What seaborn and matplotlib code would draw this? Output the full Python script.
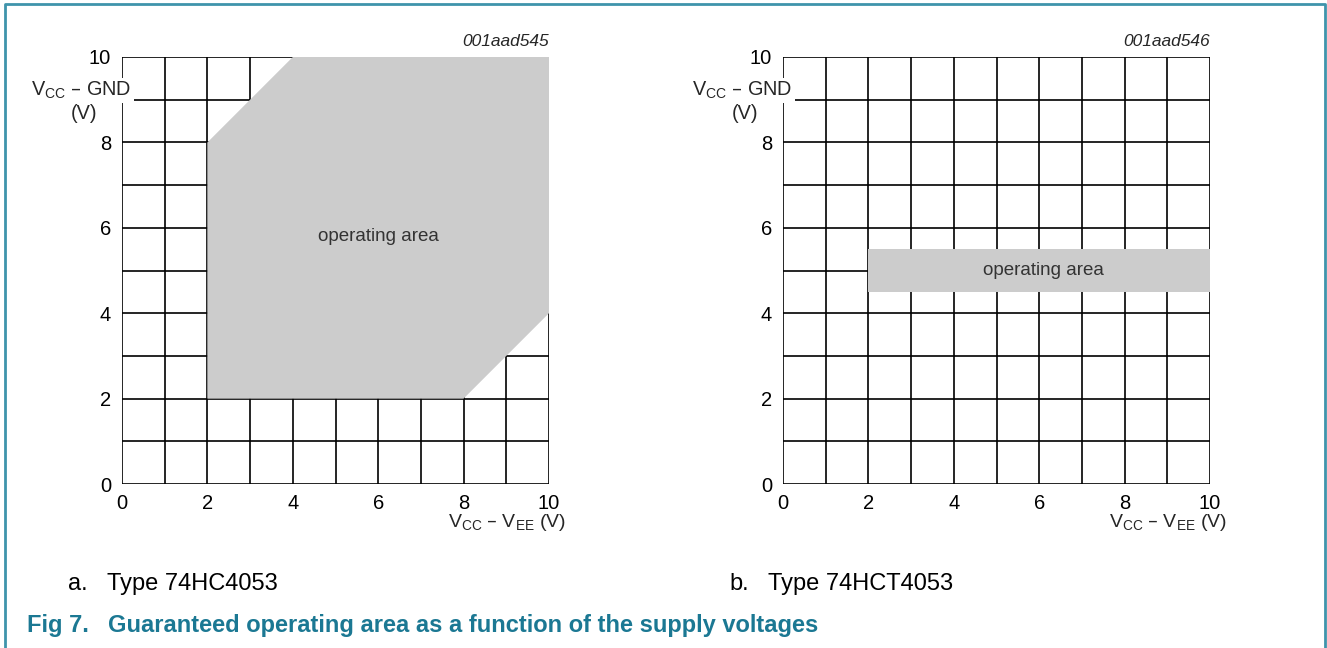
import matplotlib
matplotlib.use("Agg")
import matplotlib.pyplot as plt
import seaborn as sns
import numpy as np
from matplotlib.lines import Line2D

# ---- data ----
grid_ticks = list(range(0, 11))
label_ticks = [0, 2, 4, 6, 8, 10]

hc_x = [2, 8, 10, 10, 4, 2]
hc_y = [2, 2, 4, 10, 10, 8]

hct_x = [2, 10, 10, 2]
hct_y = [4.5, 4.5, 5.5, 5.5]

codes = ["001aad545", "001aad546"]
captions = [("a.", "Type 74HC4053"), ("b.", "Type 74HCT4053")]
area_text = "operating area"
area_text_pos = [(6.0, 5.8), (6.1, 5.0)]
title_num = "Fig 7."
title_text = "Guaranteed operating area as a function of the supply voltages"

sns.set_theme(style="white")
plt.rcParams['font.family'] = ['Liberation Sans', 'DejaVu Sans']
plt.rcParams['mathtext.default'] = 'regular'

W, H = 1327, 648
fig = plt.figure(figsize=(W / 100, H / 100), dpi=100)
fig.patch.set_facecolor("white")

def px(x, y):
    return x / W, 1 - y / H

polys = [(hc_x, hc_y), (hct_x, hct_y)]
lefts = [122, 783]
ax_w, ax_top, ax_bot = 427, 57, 484

for i, (left, (pxs, pys)) in enumerate(zip(lefts, polys)):
    ax = fig.add_axes([left / W, 1 - ax_bot / H, ax_w / W, (ax_bot - ax_top) / H])
    ax.set_xlim(0, 10)
    ax.set_ylim(0, 10)
    for s in ax.spines.values():
        s.set_visible(False)
    for g in grid_ticks:
        ax.axvline(g, color="black", lw=1.2, zorder=0)
        ax.axhline(g, color="black", lw=1.2, zorder=0)
    ax.fill(pxs, pys, color="#cccccc", lw=0, zorder=1)
    ax.set_xticks(label_ticks)
    ax.set_yticks(label_ticks)
    ax.set_xticklabels([str(t) for t in label_ticks])
    ax.set_yticklabels([str(t) for t in label_ticks])
    ax.tick_params(length=0, labelsize=14.5, colors="black", pad=7)
    ax.tick_params(axis='y', pad=8)
    tx, ty = area_text_pos[i]
    ax.text(tx, ty, area_text, ha="center", va="center", fontsize=13.5,
            color="#333333", zorder=3)
    # y label
    ax.text(-0.95, 9.22, r"$V_{CC}$ – GND", ha="center", va="center", fontsize=14.3,
            clip_on=False, zorder=5,
            bbox=dict(facecolor="white", edgecolor="none", pad=1.5))
    ax.text(-0.9, 8.68, "(V)", ha="center", va="center", fontsize=14.3,
            clip_on=False, zorder=5)
    # x label
    ax.text(10.4, -0.9, r"$V_{CC}$ – $V_{EE}$ (V)", ha="right", va="center",
            fontsize=14, clip_on=False)
    # code
    ax.text(10, 10.18, codes[i], ha="right", va="bottom", fontsize=12.5,
            style="italic", clip_on=False)

# captions
cap_pos = [(68, 107), (729, 768)]
for (xa, xb), (a, b) in zip(cap_pos, captions):
    fig.text(*px(xa, 590), a, fontsize=17, va="baseline", ha="left", color="black")
    fig.text(*px(xb, 590), b, fontsize=17, va="baseline", ha="left", color="black")

teal = "#1b7893"
fig.text(*px(27, 632), title_num, fontsize=17, fontweight="bold", color=teal,
         va="baseline", ha="left")
fig.text(*px(108, 632), title_text, fontsize=17, fontweight="bold", color=teal,
         va="baseline", ha="left")

# frame (left, top, right)
frame_c = "#3f94ab"
fig.add_artist(Line2D([5 / W, 5 / W, 1325 / W, 1325 / W],
                      [0, 1 - 4 / H, 1 - 4 / H, 0],
                      transform=fig.transFigure, color=frame_c, lw=2))

fig.savefig("out.png", dpi=100, facecolor="white")
